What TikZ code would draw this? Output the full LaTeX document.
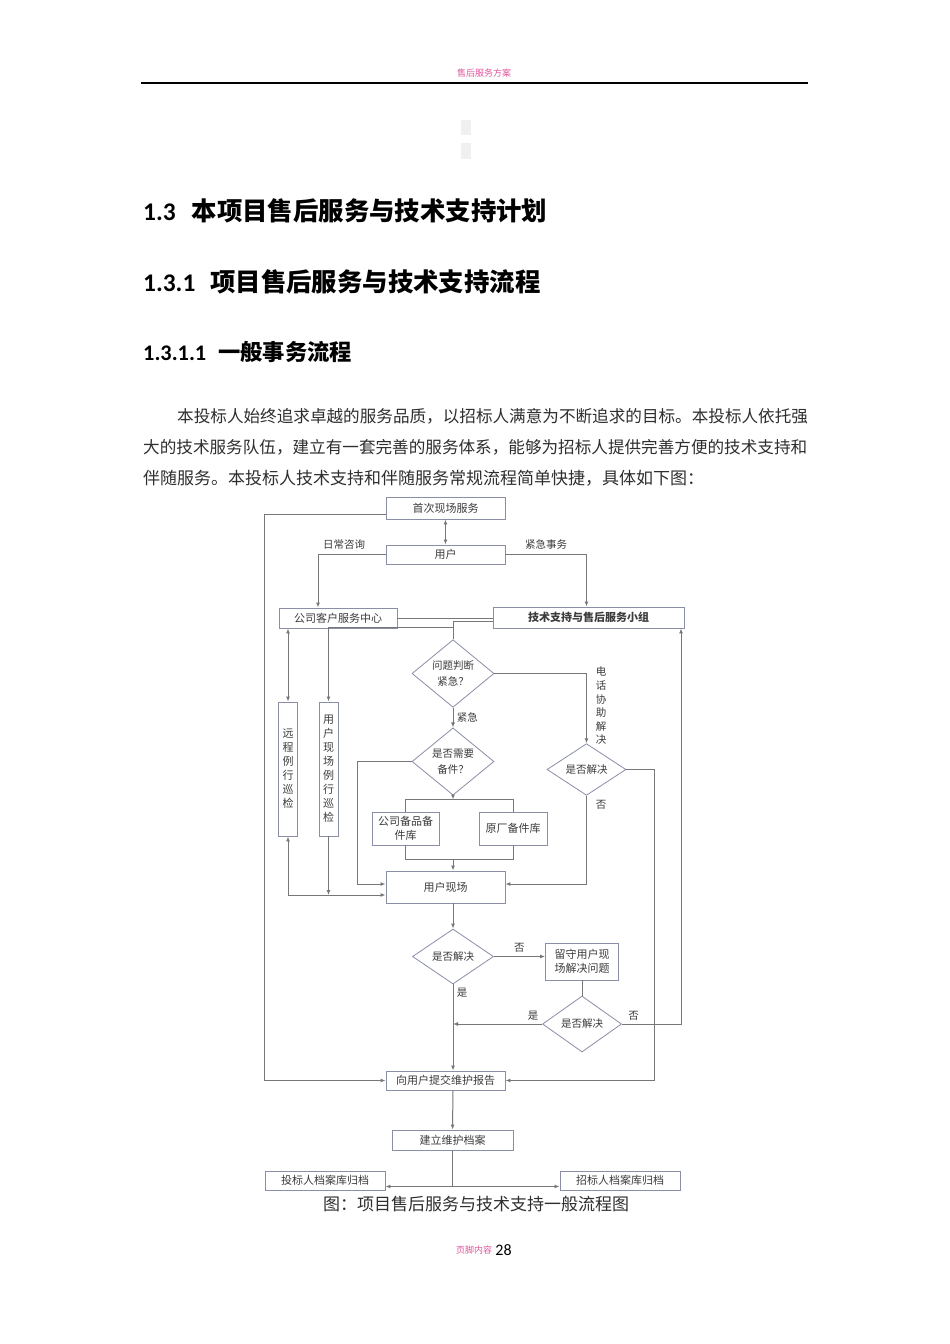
\documentclass[tikz,border=0pt]{standalone}
\usepackage{fontspec}
\setmainfont{Noto Sans CJK SC}
\newfontfamily\numfont{Carlito}
\usetikzlibrary{arrows.meta,positioning,shapes.geometric}
\definecolor{pinkhead}{HTML}{E2559C}
\definecolor{boxline}{HTML}{8A8EA6}
\definecolor{flowline}{HTML}{777777}
\definecolor{bodytext}{HTML}{2E2E2E}
\definecolor{charttext}{HTML}{3C3C3C}
\begin{document}
\begin{tikzpicture}[x=1pt,y=-1pt,>={Latex[length=5pt,width=4pt]},
  every node/.style={font=\fontsize{11}{14}\selectfont,text=charttext},
  box/.style={draw=boxline,fill=white,line width=0.9pt,inner sep=0pt,align=center},
  vbox/.style={box,minimum width=19pt,minimum height=134pt},
  dia/.style={diamond,draw=boxline,fill=white,line width=0.8pt,inner sep=0pt,align=center,font=\fontsize{10.5}{16}\selectfont},
  flow/.style={draw=flowline,line width=1pt},
  lbl/.style={font=\fontsize{10.5}{13.6}\selectfont},
  para/.style={anchor=west,text=bodytext,inner sep=0pt}]
\useasboundingbox[fill=white] (0,0) rectangle (950,1344);
% page head
\node[font=\fontsize{9}{11}\selectfont,text=pinkhead] (header) at (484,73) {售后服务方案};
\draw[line width=1.2pt] (141,83) -- (808,83);
\fill[gray!12] (461,120) rectangle (471,135);
\fill[gray!12] (461,143) rectangle (471,159);
% headings and text
\node[para,text=black,font=\fontsize{25.4}{29}\selectfont\bfseries] (h1) at (143,211) {{\numfont 1.3}\hspace{16pt}本项目售后服务与技术支持计划};
\node[para,text=black,font=\fontsize{25.4}{29}\selectfont\bfseries] (h2) at (143,282) {{\numfont 1.3.1}\hspace{15pt}项目售后服务与技术支持流程};
\node[para,text=black,font=\fontsize{22.3}{26}\selectfont\bfseries] (h3) at (143,352) {{\numfont 1.3.1.1}\hspace{12pt}一般事务流程};
\node[para,font=\fontsize{16.6}{20}\selectfont] (p1) at (177,416) {本投标人始终追求卓越的服务品质，以招标人满意为不断追求的目标。本投标人依托强};
\node[para,font=\fontsize{16.6}{20}\selectfont] (p2) at (143,447) {大的技术服务队伍，建立有一套完善的服务体系，能够为招标人提供完善方便的技术支持和};
\node[para,font=\fontsize{17}{20}\selectfont] (p3) at (143,478) {伴随服务。本投标人技术支持和伴随服务常规流程简单快捷，具体如下图：};
% flow chart
\node[box,minimum width=119pt,minimum height=22pt] (first) at (445.5,508) {首次现场服务};
\node[box,minimum width=119pt,minimum height=19pt] (user) at (445.5,554.5) {用户};
\node[lbl] (daily) at (344,545) {日常咨询};
\node[lbl] (urgent) at (546,545) {紧急事务};
\node[box,minimum width=118pt,minimum height=20pt] (csc) at (338,618) {公司客户服务中心};
\node[box,minimum width=191pt,minimum height=21pt,font=\fontsize{11}{14}\selectfont\bfseries] (tech) at (588.5,617.5) {技术支持与售后服务小组};
\node[vbox] (remote) at (288,769) {远\\程\\例\\行\\巡\\检};
\node[vbox] (onsite) at (328.5,769) {用\\户\\现\\场\\例\\行\\巡\\检};
\node[dia,minimum width=82pt,minimum height=54pt] (judge) at (453,673.5) {问题判断\\紧急？};
\node[dia,minimum width=82pt,minimum height=54pt] (spare) at (453,761.5) {是否需要\\备件？};
\node[dia,minimum width=79pt,minimum height=51pt] (solved1) at (586.5,769.5) {是否解决};
\node[lbl,align=center] (phone) at (601,706) {电\\话\\协\\助\\解\\决};
\node[lbl] (no1) at (601,805) {否};
\node[box,minimum width=67pt,minimum height=33pt] (compstore) at (405.5,828.5) {公司备品备\\件库};
\node[box,minimum width=68pt,minimum height=33pt] (factstore) at (513,828.5) {原厂备件库};
\node[box,minimum width=119pt,minimum height=32pt] (site) at (445.5,887) {用户现场};
\node[dia,minimum width=81pt,minimum height=55pt] (solved2) at (453,956.5) {是否解决};
\node[box,minimum width=73pt,minimum height=37pt] (stay) at (582,961.5) {留守用户现\\场解决问题};
\node[dia,minimum width=79pt,minimum height=56pt] (solved3) at (582,1024) {是否解决};
\node[box,minimum width=119pt,minimum height=19pt] (report) at (445.5,1080.5) {向用户提交维护报告};
\node[box,minimum width=121pt,minimum height=20pt] (archive) at (452.5,1140) {建立维护档案};
\node[box,minimum width=120pt,minimum height=19pt] (bidder) at (325,1180.5) {投标人档案库归档};
\node[box,minimum width=120pt,minimum height=19pt] (tenderer) at (620,1180.5) {招标人档案库归档};
\coordinate (topbar) at ([yshift=12pt]compstore.north);
\coordinate (botbar) at ([yshift=-14pt]compstore.south);
\coordinate (sitein) at ([yshift=-8pt]site.west);
\coordinate (split) at ([yshift=-36pt]archive.south);
\draw[flow,<->] (first.south) -- (user.north);
\draw[flow,->] (user.west) -| ([xshift=-20pt]csc.north);
\draw[flow,->] (user.east) -| ([xshift=-2pt]tech.north);
\draw[flow] (csc.east) -- (tech.west |- csc.east);
\draw[flow,->] ([yshift=-6pt]first.west) -| (bidder.west |- report.west) -- (report.west);
\draw[flow] ([yshift=-4pt]tech.west) -| (judge.north);
\draw[flow,->] ([yshift=12pt]judge.north) -| (onsite.north);
\draw[flow,<->] (remote.north |- csc.south) -- (remote.north);
\draw[flow,<->] (remote.south) |- (sitein);
\draw[flow,->] (onsite.south) -- (onsite.south |- sitein);
\draw[flow,->] (judge.south) -- node[lbl,right]{紧急} (spare.north);
\draw[flow,->] (spare.west) -- ++(-54,0) |- ([yshift=3pt]site.west);
\draw[flow,->] (judge.east) -| (solved1.north);
\draw[flow,->] (solved1.south) |- ([yshift=3pt]site.east);
\draw[flow,->] (solved1.east) -- ++(28,0) |- (report.east);
\draw[flow,->] (spare.south) -- (spare.south |- topbar);
\draw[flow] (compstore.north) -- (topbar) -| (factstore.north);
\draw[flow] (compstore.south) -- (botbar) -| (factstore.south);
\draw[flow,->] (judge.south |- botbar) -- (judge.south |- site.north);
\draw[flow,->] (judge.south |- site.south) -- (solved2.north);
\draw[flow,->] (solved2.east) -- node[lbl,above]{否} (stay.west |- solved2.east);
\draw[flow,->] (solved2.south) -- node[lbl,pos=0.1,right]{是} (solved2.south |- report.north);
\draw[flow] (stay.south) -- (solved3.north);
\draw[flow,->] (solved3.west) -- node[lbl,pos=0.1,above]{是} (solved3.west -| solved2.south);
\draw[flow,->] (solved3.east) -| node[lbl,pos=0.1,above]{否} ([xshift=92.5pt]tech.south);
\draw[flow,->] (judge.south |- report.south) -- (archive.north);
\draw[flow] (archive.south) -- (split);
\draw[flow,->] (split) -- (bidder.east |- split);
\draw[flow,->] (split) -- (tenderer.west |- split);
\node[text=bodytext,font=\fontsize{17}{20}\selectfont] (caption) at (476,1204) {图：项目售后服务与技术支持一般流程图};
% page foot
\node[font=\fontsize{9}{11}\selectfont,text=pinkhead,inner sep=0pt] (footer) at (474,1250) {页脚内容};
\node[right=3pt of footer,font=\fontsize{16}{18}\selectfont\numfont,text=black,inner sep=0pt] (pageno) {28};
\end{tikzpicture}
\end{document}
